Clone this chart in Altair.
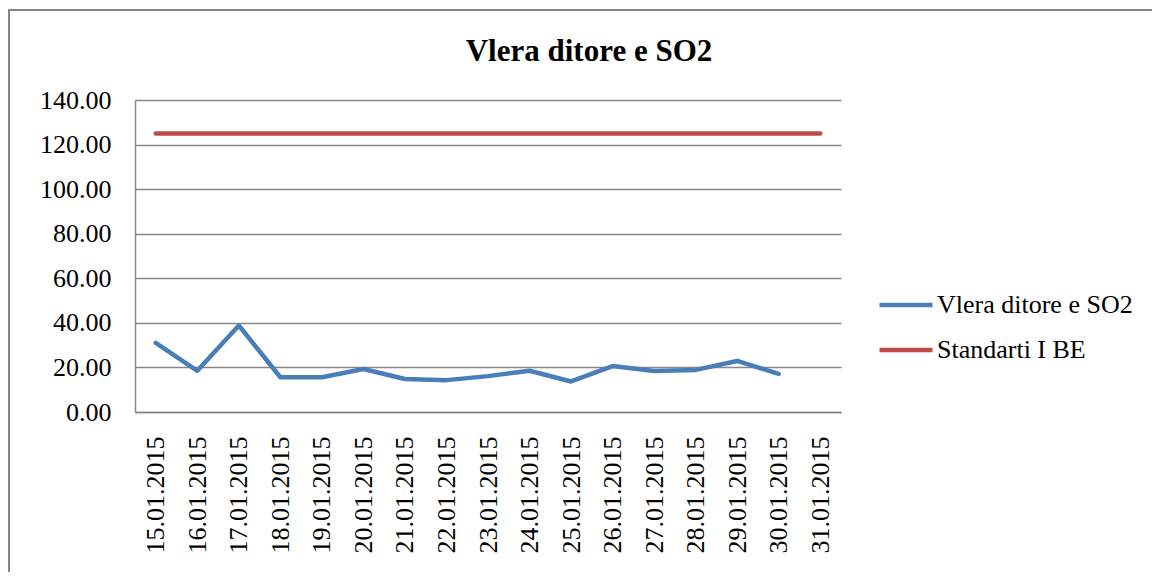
import altair as alt
import pandas as pd

dates = ["15.01.2015", "16.01.2015", "17.01.2015", "18.01.2015", "19.01.2015",
         "20.01.2015", "21.01.2015", "22.01.2015", "23.01.2015", "24.01.2015",
         "25.01.2015", "26.01.2015", "27.01.2015", "28.01.2015", "29.01.2015",
         "30.01.2015", "31.01.2015"]
so2 = [31.0, 18.5, 38.8, 15.6, 15.6, 19.3, 14.8, 14.3, 16.1, 18.5,
       13.7, 20.6, 18.4, 18.9, 22.9, 17.1, None]
standard = [125, 125, 125, 125, 125, 125, 125, 125, 125, 125,
            125, 125, 125, 125, 125, 125, 125]
series_names = ["Vlera ditore e SO2", "Standarti I BE"]
series_colors = ["#4a7ebb", "#be4b48"]
y_ticks = [0, 20, 40, 60, 80, 100, 120, 140]

rows = []
for d, v in zip(dates, so2):
    if v is not None:
        rows.append({"date": d, "value": v, "series": series_names[0]})
for d, v in zip(dates, standard):
    rows.append({"date": d, "value": v, "series": series_names[1]})
df = pd.DataFrame(rows)

FONT = "Liberation Serif"
GRAY = "#868686"

border = alt.Chart(pd.DataFrame({"k": [0]})).mark_rect(
    filled=False, stroke=GRAY, strokeWidth=2
).encode(
    x=alt.value(-126), x2=alt.value(1100), y=alt.value(-90), y2=alt.value(600)
)

lines = alt.Chart(df).mark_line(
    strokeWidth=4.5, strokeCap="round", strokeJoin="round"
).encode(
    x=alt.X("date:N", sort=dates, scale=alt.Scale(type="point", padding=0.5),
            axis=alt.Axis(title=None, labelAngle=270, labelFont=FONT, labelFontSize=26,
                          labelColor="black", labelPadding=24, ticks=False,
                          domainColor=GRAY, domainWidth=1.5, grid=False)),
    y=alt.Y("value:Q", scale=alt.Scale(domain=[0, 140], nice=False),
            axis=alt.Axis(title=None, values=y_ticks, format=".2f", labelFont=FONT,
                          labelFontSize=26, labelColor="black", labelPadding=24,
                          ticks=False, domainColor=GRAY, domainWidth=1.5,
                          gridColor=GRAY, gridWidth=1.5)),
    color=alt.Color("series:N", scale=alt.Scale(domain=series_names, range=series_colors),
                    legend=alt.Legend(title=None, orient="none", legendX=742, legendY=176,
                                      symbolType="stroke", symbolSize=2809,
                                      symbolStrokeWidth=4.5, labelFont=FONT,
                                      labelFontSize=26, labelColor="black",
                                      labelOffset=2, labelLimit=400, padding=0,
                                      rowPadding=3)),
)

chart = alt.layer(border, lines).properties(
    width=706,
    height=312,
    title=alt.TitleParams("Vlera ditore e SO2", font=FONT, fontSize=31, fontWeight="bold",
                          color="black", anchor="middle", frame="group", dx=101,
                          baseline="alphabetic", offset=0, dy=83),
    padding={"left": 127, "top": 92, "right": 311, "bottom": 160},
    autosize="none",
).configure_view(stroke=None)

chart.save("out.html", embed_options={"renderer": "svg", "actions": False})
